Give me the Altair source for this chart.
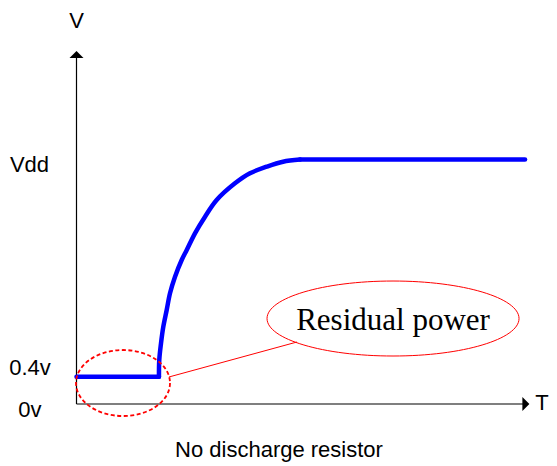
import altair as alt
import pandas as pd

# ---- data (time in arbitrary units, voltage in volts) ----
flat_low_t = [0.0, 1.0]
flat_low_v = [0.4, 0.4]
rise_t = [1.000, 1.004, 1.025, 1.053, 1.094, 1.134, 1.195, 1.276, 1.337, 1.437,
          1.559, 1.700, 1.922, 2.104, 2.307, 2.505, 2.711]
rise_v = [0.400, 0.648, 0.894, 1.138, 1.384, 1.630, 1.875, 2.121, 2.268, 2.514,
          2.759, 3.004, 3.250, 3.398, 3.495, 3.568, 3.600]
flat_high_t = [2.711, 5.44]
flat_high_v = [3.6, 3.6]

# axes (with arrow heads) in data units
axis_t = [0.0, 0.0]
axis_t2 = [0.0, 5.45]
axis_v = [0.0, 0.0]
axis_v2 = [5.147, 0.0]

# callout
connector_t = [1.122, 2.674]
connector_v = [0.398, 0.913]
spot_t, spot_v = 0.564, 0.309        # dashed ellipse centre
callout_t, callout_v = 3.839, 1.259  # solid ellipse centre

label_text = ["V", "Vdd", "0.4v", "0v", "T", "No discharge resistor"]
label_t = [0.0, -0.57, -0.564, -0.564, 5.646, 2.456]
label_v = [5.538, 3.417, 0.427, -0.191, -0.088, -0.781]
callout_text = "Residual power"
callout_text_v = 1.09

W, H = 541, 456
kx, ky = 82.45, 67.9
t0 = -(76.5 - 8) / kx
t1 = t0 + W / kx
v1 = (404 - 8) / ky
v0 = v1 - H / ky

xs = alt.Scale(domain=[t0, t1], nice=False, zero=False)
ys = alt.Scale(domain=[v0, v1], nice=False, zero=False)
X = lambda f="t": alt.X(f"{f}:Q", scale=xs, axis=None)
Y = lambda f="v": alt.Y(f"{f}:Q", scale=ys, axis=None)


def ellipse_path(r):
    k = 0.5523
    return (f"M1,0C1,{k*r:.4f} {k},{r:.4f} 0,{r:.4f}"
            f"C{-k},{r:.4f} -1,{k*r:.4f} -1,0"
            f"C-1,{-k*r:.4f} {-k},{-r:.4f} 0,{-r:.4f}"
            f"C{k},{-r:.4f} 1,{-k*r:.4f} 1,0Z")


axes_df = pd.DataFrame({"t": axis_t, "t2": axis_t2, "v": axis_v, "v2": axis_v2})
axes = alt.Chart(axes_df).mark_rule(color="black", strokeWidth=1.2).encode(
    x=X(), x2="t2:Q", y=Y(), y2="v2:Q")

up_arrow = alt.Chart(pd.DataFrame({"t": [0.0], "v": [5.147]})).mark_point(
    shape="M-1,0.5L0,-0.5L1,0.5Z", size=196, filled=True, fill="black",
    strokeWidth=0, opacity=1).encode(x=X(), y=Y())
right_arrow = alt.Chart(pd.DataFrame({"t": [5.45], "v": [0.0]})).mark_point(
    shape="M-0.5,-1L0.5,0L-0.5,1Z", size=196, filled=True, fill="black",
    strokeWidth=0, opacity=1).encode(x=X(), y=Y())

flat_df = pd.DataFrame({
    "t": flat_low_t + flat_high_t,
    "v": flat_low_v + flat_high_v,
    "seg": ["low", "low", "high", "high"],
})
flats = alt.Chart(flat_df).mark_line(color="#0000FF", strokeWidth=4.5, strokeCap="round").encode(
    x=X(), y=Y(), detail="seg:N")
rise = alt.Chart(pd.DataFrame({"t": rise_t, "v": rise_v})).mark_line(
    color="#0000FF", strokeWidth=4.5, strokeCap="round", interpolate="catmull-rom").encode(
    x=X(), y=Y(), order=alt.Order("t:Q"))

connector = alt.Chart(pd.DataFrame({"t": connector_t, "v": connector_v})).mark_line(
    color="red", strokeWidth=1).encode(x=X(), y=Y())

spot = alt.Chart(pd.DataFrame({"t": [spot_t], "v": [spot_v]})).mark_point(
    shape=ellipse_path(33 / 47), size=94 ** 2, filled=False, stroke="red",
    strokeWidth=1.8, strokeDash=[4, 2.5], opacity=1).encode(x=X(), y=Y())
callout = alt.Chart(pd.DataFrame({"t": [callout_t], "v": [callout_v]})).mark_point(
    shape=ellipse_path(37.5 / 126), size=252 ** 2, filled=False, stroke="red",
    strokeWidth=1, opacity=1).encode(x=X(), y=Y())

labels = alt.Chart(pd.DataFrame({"t": label_t, "v": label_v, "txt": label_text})).mark_text(
    font="Liberation Sans", fontSize=22, color="black", align="center",
    baseline="alphabetic").encode(x=X(), y=Y(), text="txt:N")
callout_label = alt.Chart(pd.DataFrame({"t": [callout_t], "v": [callout_text_v],
                                        "txt": [callout_text]})).mark_text(
    font="Liberation Serif", fontSize=31, color="black", align="center",
    baseline="alphabetic").encode(x=X(), y=Y(), text="txt:N")

chart = alt.layer(axes, up_arrow, right_arrow, flats, rise, connector, spot, callout,
                  labels, callout_label).properties(
    width=W, height=H, padding=0, autosize="none"
).configure_view(stroke=None)

chart.save("out.html", embed_options={"renderer": "svg", "actions": False})
